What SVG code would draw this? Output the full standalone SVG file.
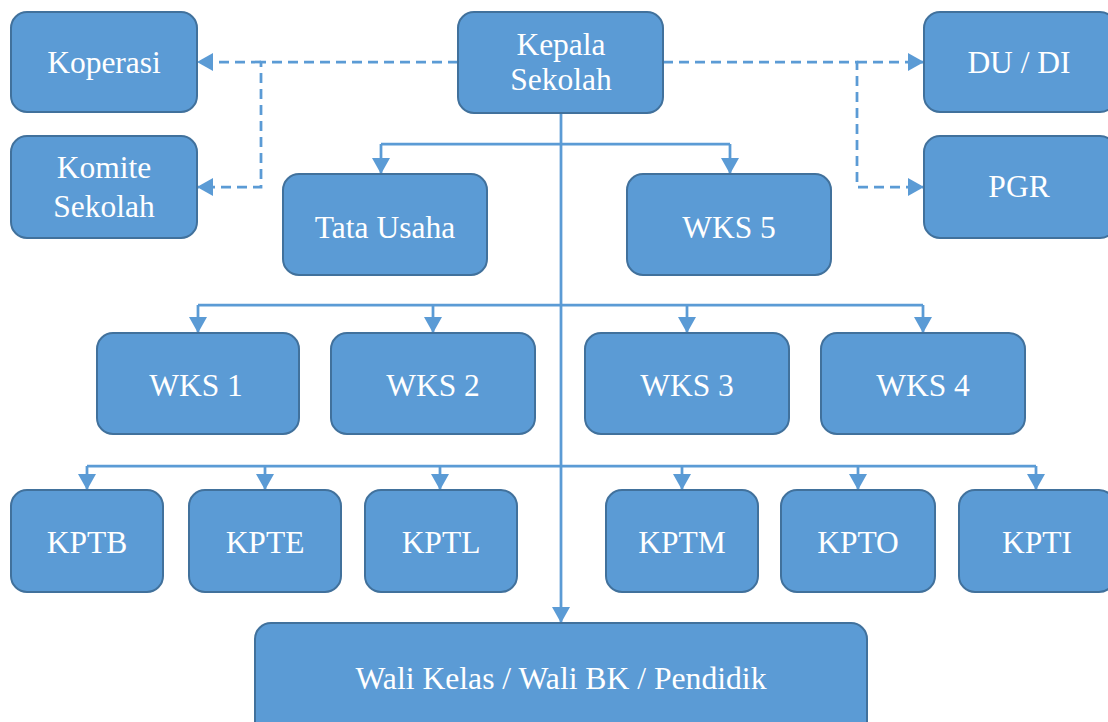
<svg xmlns="http://www.w3.org/2000/svg" width="1108" height="722" viewBox="0 0 1108 722">
<defs>
<style>
.box{fill:#5B9BD5;stroke:#41719C;stroke-width:2}
.t{font-family:"Liberation Serif","Times New Roman",serif;font-size:31.5px;fill:#FFFFFF;text-anchor:middle}
.c{fill:none;stroke:#5B9BD5;stroke-width:2.75}
.d{fill:none;stroke:#5B9BD5;stroke-width:2.75;stroke-dasharray:10 6}
</style>
<marker id="ah" viewBox="0 0 16 18" refX="15" refY="9" markerWidth="16" markerHeight="18" markerUnits="userSpaceOnUse" orient="auto">
<path d="M0,0 L16,9 L0,18 Z" fill="#5B9BD5"/>
</marker>
</defs>
<rect width="1108" height="722" fill="#FFFFFF"/>
<g id="connectors">
<path class="d" d="M458,62 H261 V187 H198" marker-end="url(#ah)"/>
<path class="d" d="M261,62 H198" marker-end="url(#ah)"/>
<path class="d" d="M663,62 H857 V187 H923" marker-end="url(#ah)"/>
<path class="d" d="M857,62 H923" marker-end="url(#ah)"/>
<path class="c" d="M561,113 V622" marker-end="url(#ah)"/>
<path class="c" d="M381,144 H730"/>
<path class="c" d="M381,144 V173" marker-end="url(#ah)"/>
<path class="c" d="M730,144 V173" marker-end="url(#ah)"/>
<path class="c" d="M198,305 H923"/>
<path class="c" d="M198,305 V332" marker-end="url(#ah)"/>
<path class="c" d="M433,305 V332" marker-end="url(#ah)"/>
<path class="c" d="M687,305 V332" marker-end="url(#ah)"/>
<path class="c" d="M923,305 V332" marker-end="url(#ah)"/>
<path class="c" d="M87,466 H1036"/>
<path class="c" d="M87,466 V489" marker-end="url(#ah)"/>
<path class="c" d="M265,466 V489" marker-end="url(#ah)"/>
<path class="c" d="M440,466 V489" marker-end="url(#ah)"/>
<path class="c" d="M682,466 V489" marker-end="url(#ah)"/>
<path class="c" d="M858,466 V489" marker-end="url(#ah)"/>
<path class="c" d="M1036,466 V489" marker-end="url(#ah)"/>
</g>
<g id="kepala"><rect class="box" x="458" y="12" width="205" height="101" rx="16"/><text class="t" x="561" y="55">Kepala</text><text class="t" x="561" y="90">Sekolah</text></g>
<g id="koperasi"><rect class="box" x="11" y="12" width="186" height="100" rx="16"/><text class="t" x="104" y="73">Koperasi</text></g>
<g id="komite"><rect class="box" x="11" y="136" width="186" height="102" rx="16"/><text class="t" x="104" y="178">Komite</text><text class="t" x="104" y="217">Sekolah</text></g>
<g id="dudi"><rect class="box" x="924" y="12" width="192" height="100" rx="16"/><text class="t" x="1019" y="73">DU / DI</text></g>
<g id="pgr"><rect class="box" x="924" y="136" width="192" height="102" rx="16"/><text class="t" x="1019" y="197">PGR</text></g>
<g id="tatausaha"><rect class="box" x="283" y="174" width="204" height="101" rx="16"/><text class="t" x="385" y="238">Tata Usaha</text></g>
<g id="wks5"><rect class="box" x="627" y="174" width="204" height="101" rx="16"/><text class="t" x="729" y="238">WKS 5</text></g>
<g id="wks1"><rect class="box" x="97" y="333" width="202" height="101" rx="16"/><text class="t" x="196" y="396">WKS 1</text></g>
<g id="wks2"><rect class="box" x="331" y="333" width="204" height="101" rx="16"/><text class="t" x="433" y="396">WKS 2</text></g>
<g id="wks3"><rect class="box" x="585" y="333" width="204" height="101" rx="16"/><text class="t" x="687" y="396">WKS 3</text></g>
<g id="wks4"><rect class="box" x="821" y="333" width="204" height="101" rx="16"/><text class="t" x="923" y="396">WKS 4</text></g>
<g id="kptb"><rect class="box" x="11" y="490" width="152" height="102" rx="16"/><text class="t" x="87" y="553">KPTB</text></g>
<g id="kpte"><rect class="box" x="189" y="490" width="152" height="102" rx="16"/><text class="t" x="265" y="553">KPTE</text></g>
<g id="kptl"><rect class="box" x="365" y="490" width="152" height="102" rx="16"/><text class="t" x="441" y="553">KPTL</text></g>
<g id="kptm"><rect class="box" x="606" y="490" width="152" height="102" rx="16"/><text class="t" x="682" y="553">KPTM</text></g>
<g id="kpto"><rect class="box" x="781" y="490" width="154" height="102" rx="16"/><text class="t" x="858" y="553">KPTO</text></g>
<g id="kpti"><rect class="box" x="959" y="490" width="156" height="102" rx="16"/><text class="t" x="1037" y="553">KPTI</text></g>
<g id="wali"><rect class="box" x="255" y="623" width="612" height="115" rx="16"/><text class="t" x="561" y="689" textLength="411" lengthAdjust="spacingAndGlyphs">Wali Kelas / Wali BK / Pendidik</text></g>
</svg>
